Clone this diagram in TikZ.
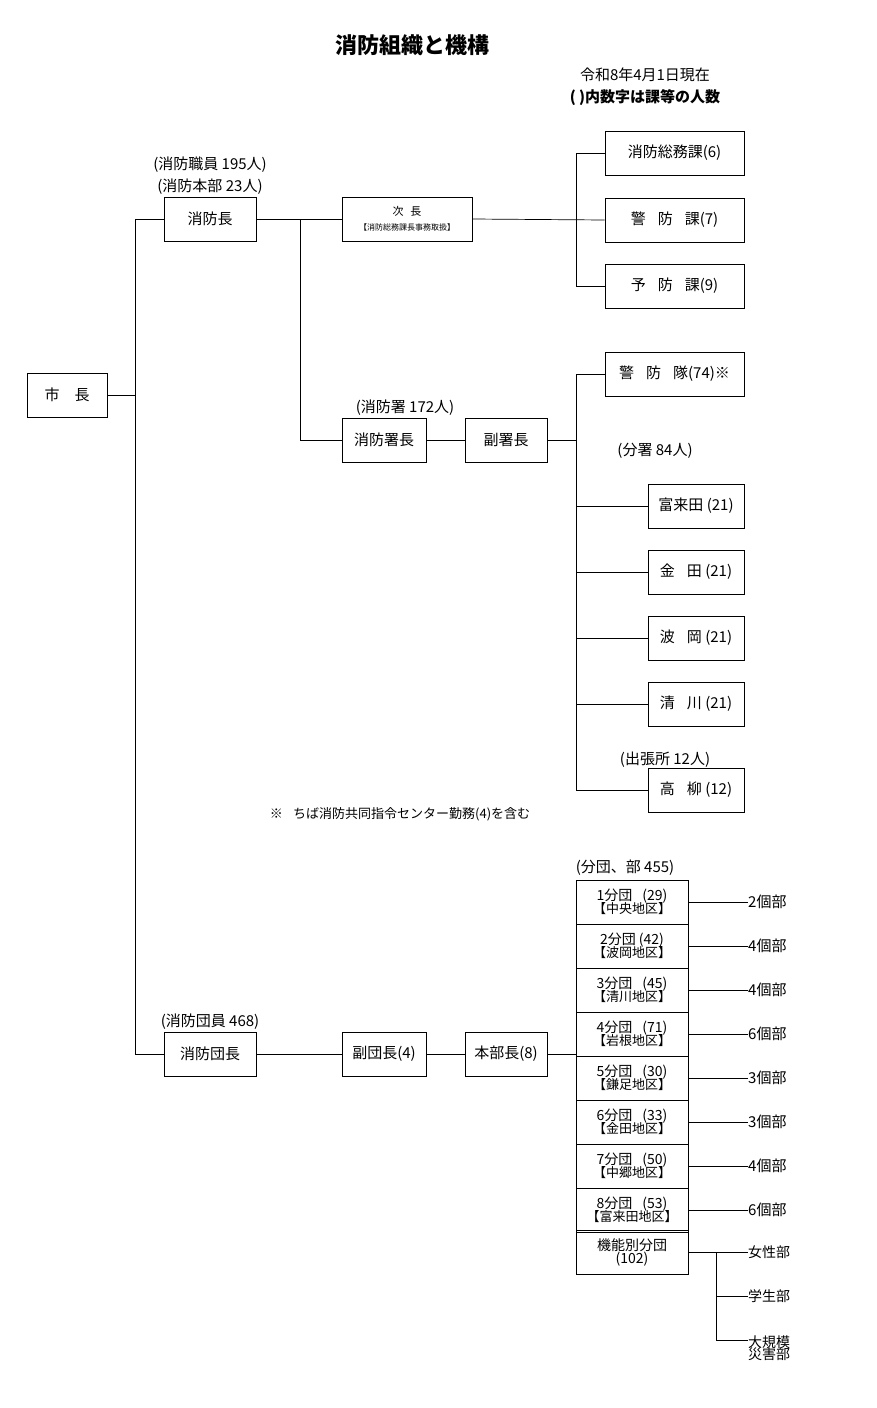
\documentclass[tikz,border=0pt]{standalone}
\usepackage{fontspec}
\setmainfont{Noto Sans CJK JP}
\begin{document}
\begin{tikzpicture}[x=1pt,y=-1pt,
  bx/.style={draw,line width=0.8pt,minimum width=#1,minimum height=44pt,inner sep=0pt,font=\fontsize{15}{16}\selectfont},
  bx/.default=92pt,
  lb/.style={font=\fontsize{15}{16}\selectfont,inner sep=0pt},
  sm/.style={font=\fontsize{14}{15}\selectfont,inner sep=0pt},
  ln/.style={line width=0.7pt},
  dan/.style={draw,line width=0.8pt,minimum width=112pt,minimum height=44pt,inner sep=0pt,align=center,font=\fontsize{14}{15}\selectfont}]
\useasboundingbox (0,0) rectangle (877,1408);
\node[font=\fontsize{22}{24}\selectfont\bfseries] (title) at (412,45) {消防組織と機構};
\node[lb] (date) at (645,75) {令和8年4月1日現在};
\node[lb,font=\fontsize{15}{16}\selectfont\bfseries] (note0) at (645,98) {( )内数字は課等の人数};

\node[bx=80pt] (shicho) at (67,395) {市\hspace{1em}長};
\node[bx] (shobocho) at (210,219) {消防長};
\node[lb] (l1) at (210,165) {(消防職員 195人)};
\node[lb] (l2) at (210,187) {(消防本部 23人)};
\node[bx=130pt,align=center] (jicho) at (407,219) {{\fontsize{11}{12}\selectfont 次\hspace{0.6em}長}\\[-1pt]{\fontsize{8}{9}\selectfont 【消防総務課長事務取扱】}};
\node[bx=139pt] (somu) at (674.5,153) {消防総務課(6)};
\node[bx=139pt] (keibo) at (674.5,220) {警\hspace{0.8em}防\hspace{0.8em}課(7)};
\node[bx=139pt] (yobo) at (674.5,286) {予\hspace{0.8em}防\hspace{0.8em}課(9)};

\node[bx=84pt] (shochou) at (384,440) {消防署長};
\node[lb] (l3) at (405,408) {(消防署 172人)};
\node[bx=82pt] (fuku) at (506,440) {副署長};
\node[bx=139pt] (tai) at (674.5,374) {警\hspace{0.8em}防\hspace{0.8em}隊(74)※};
\node[lb] (l4) at (655,451) {(分署 84人)};
\node[bx=96pt] (s1) at (696,506) {富来田 (21)};
\node[bx=96pt] (s2) at (696,572) {金\hspace{0.8em}田 (21)};
\node[bx=96pt] (s3) at (696,638) {波\hspace{0.8em}岡 (21)};
\node[bx=96pt] (s4) at (696,704) {清\hspace{0.8em}川 (21)};
\node[lb] (l5) at (665,760) {(出張所 12人)};
\node[bx=96pt] (s5) at (696,790) {高\hspace{0.8em}柳 (12)};
\node[sm,font=\fontsize{13}{14}\selectfont] (note) at (400,814) {※\hspace{0.8em}ちば消防共同指令センター勤務(4)を含む};

\node[bx] (dancho) at (210,1054) {消防団長};
\node[lb] (l6) at (210,1022) {(消防団員 468)};
\node[bx=84pt] (fukudan) at (384,1054) {副団長(4)};
\node[bx=82pt] (honbu) at (506,1054) {本部長(8)};
\node[lb] (l7) at (625,868) {(分団、部 455)};

\foreach \i/\t/\c/\k in {1/1分団\hspace{0.7em}(29)/中央地区/2,2/2分団 (42)/波岡地区/4,3/3分団\hspace{0.7em}(45)/清川地区/4,4/4分団\hspace{0.7em}(71)/岩根地区/6,5/5分団\hspace{0.7em}(30)/鎌足地区/3,6/6分団\hspace{0.7em}(33)/金田地区/3,7/7分団\hspace{0.7em}(50)/中郷地区/4,8/8分団\hspace{0.7em}(53)/富来田地区/6}{
  \node[dan] (d\i) at (632,858+44*\i) {\t\\[-2pt]{\fontsize{13}{14}\selectfont 【\c】}};
  \node[lb,anchor=west] (k\i) at (748,858+44*\i) {\k 個部};
  \draw[ln] (d\i.east) -- (k\i.west);
}
\node[dan] (kino) at (632,1252) {機能別分団\\[-2pt](102)};
\node[sm,anchor=west] (w1) at (748,1252) {女性部};
\node[sm,anchor=west] (w2) at (748,1296) {学生部};
\node[sm,anchor=west,align=left] (w3) at (748,1348) {大規模\\[-3pt]災害部};
\coordinate (kx) at (716,1252);
\draw[ln] (kino.east) -- (w1.west);
\draw[ln] (kx) |- (w2.west);
\draw[ln] (kx) |- (748,1340);

% connectors
\draw[ln] (shicho.east) -- (135,395);
\draw[ln] (135,219) -- (135,1054);
\draw[ln] (135,219) -- (shobocho.west);
\draw[ln] (135,1054) -- (dancho.west);
\draw[ln] (shobocho.east) -- (jicho.west);
\draw[ln] (jicho.east) -- (keibo.west);
\draw[ln] (somu.west) -| (576,286) -- (yobo.west);
\draw[ln] (300,219) |- (shochou.west);
\draw[ln] (shochou.east) -- (fuku.west);
\draw[ln] (fuku.east) -- (576,440);
\draw[ln] (tai.west) -| (576,790) -- (s5.west);
\foreach \s in {s1,s2,s3,s4} \draw[ln] (576,0 |- \s.west) -- (\s.west);
\draw[ln] (dancho.east) -- (fukudan.west);
\draw[ln] (fukudan.east) -- (honbu.west);
\draw[ln] (honbu.east) -- (576,1054);
\end{tikzpicture}
\end{document}
